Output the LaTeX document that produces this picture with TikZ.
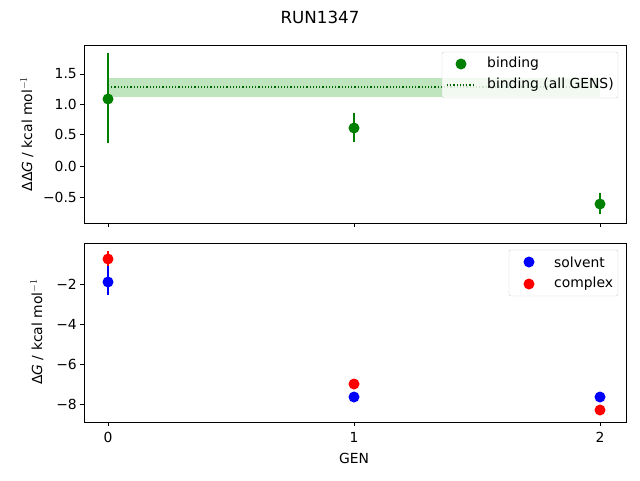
\documentclass[tikz,border=0pt]{standalone}
\usepackage{fontspec}
\setmainfont{DejaVu Sans}
\begin{document}
\begin{tikzpicture}[x=1pt,y=-1pt,
  lbl/.style={font=\fontsize{13.9}{16}\selectfont,inner sep=0pt},
  tick/.style={line width=0.8pt},
  gdot/.style={circle,fill=green!50!black,inner sep=0pt,minimum size=11pt},
  bdot/.style={circle,fill=blue,inner sep=0pt,minimum size=11pt},
  rdot/.style={circle,fill=red,inner sep=0pt,minimum size=11pt},
  leg/.style={draw=black!20,fill=white,fill opacity=0.8,text opacity=1,rounded corners=2pt}]
\useasboundingbox (0,0) rectangle (640,480);
\node[lbl,font=\fontsize{16.7}{19}\selectfont] (title) at (320,17) {RUN1347};
% top axes
\fill[green!60!black,opacity=0.25] (108,78) rectangle (600,97);
\draw[green!40!black,dotted,line width=1.2pt] (108,87) -- (600,87);
\draw[green!50!black,line width=1.5pt] (108,53) -- (108,143);
\draw[green!50!black,line width=1.5pt] (354,113) -- (354,142);
\draw[green!50!black,line width=1.5pt] (600,193) -- (600,214);
\node[gdot] (g0) at (108,99) {};
\node[gdot] (g1) at (354,128) {};
\node[gdot] (g2) at (600,204) {};
\draw[tick] (84,45) rectangle (626,223);
\foreach \v/\y in {1.5/74,1.0/104,0.5/134,0.0/166,{\textminus0.5}/197}{
  \draw[tick] (84,\y) -- (80,\y);
  \node[lbl,anchor=east] at (77,\y) {\v};}
\foreach \x in {108,354,600}{\draw[tick] (\x,223) -- (\x,227);}
\node[lbl,rotate=90] (yl1) at (27,134) {ΔΔ\textit{G} / kcal mol$^{-1}$};
% top legend
\draw[leg] (442,52) rectangle (618,98);
\node[gdot] (lg) at (461,64) {};
\node[lbl,anchor=west] at (487,64) {binding};
\draw[green!40!black,dotted,line width=1.2pt] (447,85) -- (475,85);
\node[lbl,anchor=west] at (487,85) {binding (all GENS)};
% bottom axes
\draw[blue,line width=1.5pt] (108,266) -- (108,295);
\draw[red,line width=1.5pt] (108,251) -- (108,266);
\node[bdot] (b0) at (108,282) {};
\node[rdot] (r0) at (108,259) {};
\node[bdot] (b1) at (354,397) {};
\node[rdot] (r1) at (354,384) {};
\node[bdot] (b2) at (600,397) {};
\node[rdot] (r2) at (600,410) {};
\draw[tick] (84,243) rectangle (626,422);
\foreach \v/\y in {2/284,4/324,6/364,8/404}{
  \draw[tick] (84,\y) -- (80,\y);
  \node[lbl,anchor=east] at (77,\y) {\textminus\v};}
\foreach \x/\t in {108/0,354/1,600/2}{\draw[tick] (\x,422) -- (\x,426);
  \node[lbl] at (\x,437) {\t};}
\node[lbl] (xl) at (354,458) {GEN};
\node[lbl,rotate=90] (yl2) at (37,332) {Δ\textit{G} / kcal mol$^{-1}$};
\draw[leg] (509,250) rectangle (618,296);
\node[bdot] (lb) at (529,262) {};
\node[lbl,anchor=west] at (554,262) {solvent};
\node[rdot] (lr) at (529,284) {};
\node[lbl,anchor=west] at (554,284) {complex};
\end{tikzpicture}
\end{document}
